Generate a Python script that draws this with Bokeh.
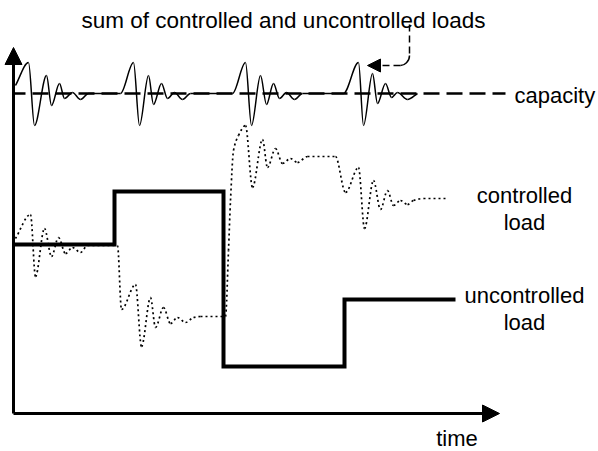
from bokeh.plotting import figure
from bokeh.models import ColumnDataSource, Range1d, Arrow, NormalHead
from bokeh.core.properties import value
from bokeh.embed import file_html
from bokeh.resources import INLINE

# ---- data (time units, load units) ----
# uncontrolled load: step levels
unc_t = [0, 101, 210, 331, 442]
unc_load = [169, 222, 47, 114, 114]

# capacity level
cap_t = [0, 492]
cap_load = [320, 320]

# sum of controlled and uncontrolled loads (knots)
sum_t = [2, 15, 21, 33, 38, 46, 51, 59, 67, 75,
         107, 120, 126, 135, 140, 148, 154, 161, 169, 177,
         219, 232, 238, 247, 253, 260, 266, 273, 281, 289,
         330, 345, 350, 359, 364, 372, 378, 384, 394, 404]
sum_load = [328, 351, 288, 338, 308, 330, 315, 321, 314, 320,
            320, 351, 288, 338, 309, 330, 315, 321, 314, 320,
            320, 351, 288, 338, 309, 330, 315, 321, 314, 320,
            320, 351, 288, 340, 310, 330, 316, 321, 314, 320]

# controlled load (knots)
ctl_t = [2, 17, 22, 31, 38, 45, 52, 59, 67, 74,
         104, 108, 122, 128, 137, 142, 150, 157, 164, 172, 180, 187,
         212, 215, 217, 220, 225, 232, 239, 249, 254, 262, 269, 277, 284, 294,
         322, 332, 345, 351, 360, 367, 374, 380, 387, 394, 400, 410, 435]
ctl_load = [175, 199, 137, 185, 157, 176, 160, 166, 161, 168,
            168, 104, 129, 67, 116, 86, 106, 90, 96, 91, 96, 97,
            97, 163, 213, 263, 278, 288, 226, 274, 246, 265, 250, 255, 251, 257,
            257, 221, 246, 185, 233, 204, 223, 208, 213, 209, 213, 215, 215]

labels = ["sum of controlled and uncontrolled loads", "capacity",
          "controlled", "load", "uncontrolled", "load", "time"]


def smooth(xs, ys):
    n = len(xs)
    d = [(ys[i + 1] - ys[i]) / (xs[i + 1] - xs[i]) for i in range(n - 1)]
    m = [0.0] * n
    m[0] = d[0]
    m[-1] = d[-1]
    for i in range(1, n - 1):
        if d[i - 1] * d[i] <= 0:
            m[i] = 0.0
        else:
            m[i] = 2 * d[i - 1] * d[i] / (d[i - 1] + d[i])
    out = dict(x0=[], y0=[], x1=[], y1=[], cx0=[], cy0=[], cx1=[], cy1=[])
    for i in range(n - 1):
        h = xs[i + 1] - xs[i]
        out["x0"].append(xs[i]); out["y0"].append(ys[i])
        out["x1"].append(xs[i + 1]); out["y1"].append(ys[i + 1])
        out["cx0"].append(xs[i] + h / 3); out["cy0"].append(ys[i] + m[i] * h / 3)
        out["cx1"].append(xs[i + 1] - h / 3); out["cy1"].append(ys[i + 1] - m[i + 1] * h / 3)
    return ColumnDataSource(out)


p = figure(width=598, height=451, output_backend="svg", toolbar_location=None,
           x_range=Range1d(-13, 585), y_range=Range1d(-38, 413),
           x_axis_location=None, y_axis_location=None, min_border=0)
p.grid.visible = False
p.outline_line_color = None
p.background_fill_color = "white"

# capacity
p.line(cap_t, cap_load, line_color="black", line_width=2.5, line_dash="16 7",
       line_dash_offset=4)

# sum curve
p.bezier(x0="x0", y0="y0", x1="x1", y1="y1", cx0="cx0", cy0="cy0", cx1="cx1", cy1="cy1",
         source=smooth(sum_t, sum_load), line_color="black", line_width=1.5)

# controlled load (dotted)
p.bezier(x0="x0", y0="y0", x1="x1", y1="y1", cx0="cx0", cy0="cy0", cx1="cx1", cy1="cy1",
         source=smooth(ctl_t, ctl_load), line_color="black", line_width=1.7,
         line_dash="2 3")

# uncontrolled load (thick step)
p.step(unc_t, unc_load, mode="after", line_color="black", line_width=4,
       line_join="miter")

# axes with arrow heads
p.add_layout(Arrow(end=NormalHead(size=17, fill_color="black", line_color="black"),
                   x_start=0, y_start=0, x_end=0, y_end=366,
                   line_color="black", line_width=3))
p.add_layout(Arrow(end=NormalHead(size=17, fill_color="black", line_color="black"),
                   x_start=0, y_start=0, x_end=486, y_end=0,
                   line_color="black", line_width=3))

# annotation arrow (dashed)
p.line([396, 396], [389, 358], line_color="black", line_width=1.5, line_dash="7 4")
p.bezier(x0=[396], y0=[358], x1=[387], y1=[348], cx0=[396], cy0=[352], cx1=[391], cy1=[348],
         line_color="black", line_width=1.5)
p.add_layout(Arrow(end=NormalHead(size=13, fill_color="black", line_color="black"),
                   x_start=387, y_start=348, x_end=354, y_end=348,
                   line_color="black", line_width=1.5, line_dash="7 4"))

font = value("Liberation Sans")
p.text(x=[68], y=[393], text=[labels[0]], text_font=font, text_font_size="22.5px",
       text_align="left", text_baseline="alphabetic", text_color="black")
p.text(x=[501], y=[318], text=[labels[1]], text_font=font, text_font_size="22px",
       text_align="left", text_baseline="alphabetic", text_color="black")
p.text(x=[511, 511, 511, 511], y=[218, 191, 118, 91], text=labels[2:6], text_font=font,
       text_font_size="22px", text_align="center", text_baseline="alphabetic",
       text_color="black")
p.text(x=[443.5], y=[-25], text=[labels[6]], text_font=font, text_font_size="22px",
       text_align="center", text_baseline="alphabetic", text_color="black")

open("out.html", "w").write(file_html(p, INLINE))
